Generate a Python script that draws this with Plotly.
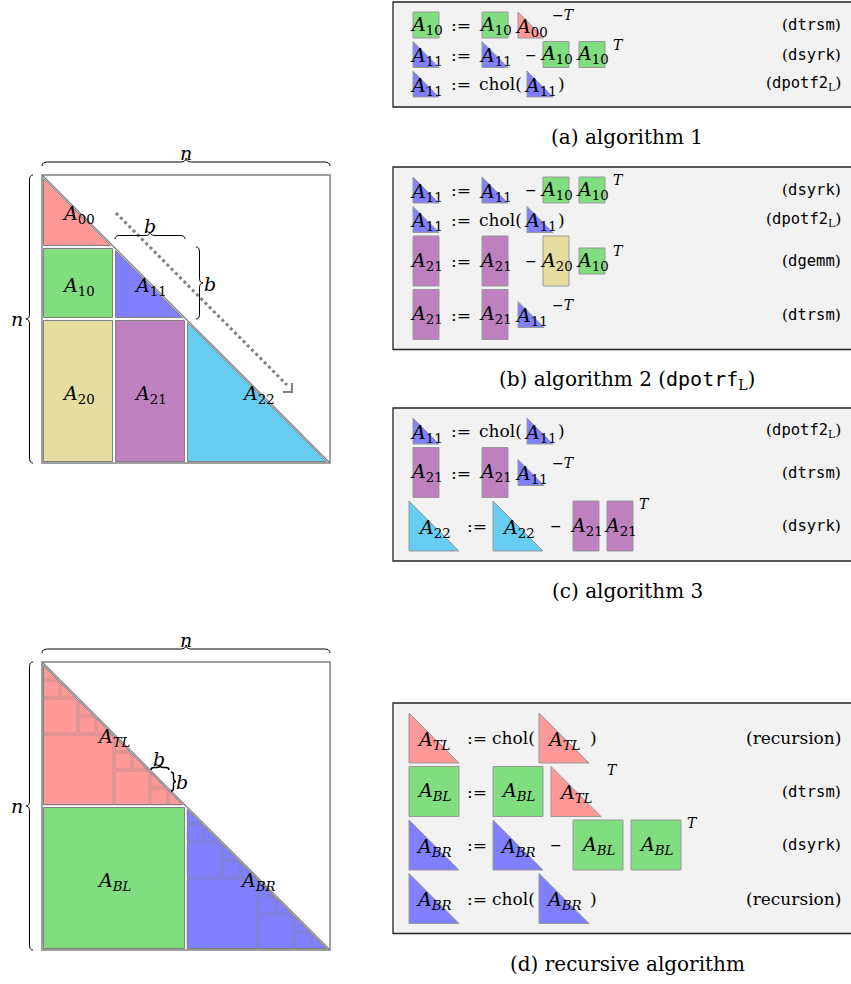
import plotly.graph_objects as go

W, H = 851, 984
SERIF = 'DejaVu Serif'
MONO = 'DejaVu Sans Mono'
GRAY = '#808080'
ICON_LINE = '#999999'
BOX_FILL = '#F2F2F2'

RED, GREEN, BLUE = '#FF9999', '#80DD80', '#8080FF'
KHAKI, PURPLE, CYAN = '#E6DDA1', '#BF80BF', '#66CCF2'

# blocked matrix (n = 4 block units): name, kind, rows, cols
block_names = ['00', '10', '11', '20', '21', '22']
block_kinds = ['tri', 'rect', 'tri', 'rect', 'rect', 'tri']
block_rows = [(0, 1), (1, 2), (1, 2), (2, 4), (2, 4), (2, 4)]
block_cols = [(0, 1), (0, 1), (1, 2), (0, 1), (1, 2), (2, 4)]

# recursive matrix (n = 2 halves)
rec_names = ['TL', 'BL', 'BR']
rec_kinds = ['tri', 'rect', 'tri']
rec_rows = [(0, 1), (1, 2), (1, 2)]
rec_cols = [(0, 1), (0, 1), (1, 2)]
rec_depth = 3

colors = {'00': RED, '10': GREEN, '11': BLUE, '20': KHAKI, '21': PURPLE, '22': CYAN,
          'TL': RED, 'BL': GREEN, 'BR': BLUE}

# equations: tokens, routine on the right
alg1 = [(['10', ':=', '10', '00', '^-T'], 'dtrsm'),
        (['11', ':=', '11', '-', '10', '10', '^T'], 'dsyrk'),
        (['11', ':=', 'chol(', '11', ')'], 'dpotf2L')]
alg2 = [(['11', ':=', '11', '-', '10', '10', '^T'], 'dsyrk'),
        (['11', ':=', 'chol(', '11', ')'], 'dpotf2L'),
        (['21', ':=', '21', '-', '20', '10', '^T'], 'dgemm'),
        (['21', ':=', '21', '11', '^-T'], 'dtrsm')]
alg3 = [(['11', ':=', 'chol(', '11', ')'], 'dpotf2L'),
        (['21', ':=', '21', '11', '^-T'], 'dtrsm'),
        (['22', ':=', '22', '-', '21', '21', '^T'], 'dsyrk')]
alg_rec = [(['TL', ':=', 'chol(', 'TL', ')'], 'recursion'),
           (['BL', ':=', 'BL', 'TL', '^T'], 'dtrsm'),
           (['BR', ':=', 'BR', '-', 'BL', 'BL', '^T'], 'dsyrk'),
           (['BR', ':=', 'chol(', 'BR', ')'], 'recursion')]
captions = ['(a) algorithm 1',
            '(b) algorithm 2 (<span style="font-family:DejaVu Sans Mono">dpotrf</span><sub>L</sub>)',
            '(c) algorithm 3',
            '(d) recursive algorithm']

# icon look per block inside the equations
ICON = {'00': ('tri', 26, 26), '10': ('rect', 26, 26), '11': ('tri', 26, 26),
        '20': ('rect', 26, 50), '21': ('rect', 26, 50), '22': ('tri', 50, 50),
        'TL': ('tri', 50, 50), 'BL': ('rect', 50, 50), 'BR': ('tri', 50, 50)}
SMALL = dict(start=413, gap=10, assign=(12, 33), minus=(13, 25), chol=(42, 45), close=-2, sup=-4)
BIG = dict(start=409, gap=8, assign=(10, 26), minus=(5, 22), chol=(44, 46), close=-4, sup=-4)
MATH = 19

shapes, annotations = [], []


def pt(x, y):
    return f'{x:.2f},{y:.2f}'


def tri_path(x, y, w, h, i=0.0):
    k = 2.4 * i
    return f'M{pt(x + i, y + k)} L{pt(x + i, y + h - i)} L{pt(x + w - k, y + h - i)} Z'


def rect_path(x, y, w, h, i=0.0):
    return f'M{pt(x + i, y + i)} L{pt(x + w - i, y + i)} L{pt(x + w - i, y + h - i)} L{pt(x + i, y + h - i)} Z'


def block(kind, x, y, w, h, fill=None, inset=0.0, lc=GRAY, lw=1.0):
    path = tri_path(x, y, w, h, inset) if kind == 'tri' else rect_path(x, y, w, h, inset)
    shapes.append(dict(type='path', path=path, xref='x', yref='y',
                       fillcolor=fill if fill else 'rgba(0,0,0,0)', line=dict(color=lc, width=lw)))


def text(s, x, y, size=MATH, anchor='center', family=SERIF):
    annotations.append(dict(text=s, x=x, y=y, xref='x', yref='y', showarrow=False,
                            xanchor=anchor, yanchor='middle',
                            font=dict(family=family, size=size, color='black')))


def mat(name):
    sub = f'<i>{name}</i>' if name.isalpha() else name
    return f'<i>A</i><sub>{sub}</sub>'


def brace(x1, y1, x2, y2, nx, ny, a=8, q=None, lw=1.0):
    q = a * 0.7 if q is None else q
    L = ((x2 - x1) ** 2 + (y2 - y1) ** 2) ** 0.5
    dx, dy = (x2 - x1) / L, (y2 - y1) / L

    def p(t, h):
        return pt(x1 + t * dx + h * nx, y1 + t * dy + h * ny)
    m = L / 2
    path = (f'M{p(0, 0)} Q{p(0, a / 2)} {p(q, a / 2)} L{p(m - q, a / 2)} Q{p(m, a / 2)} {p(m, a)} '
            f'Q{p(m, a / 2)} {p(m + q, a / 2)} L{p(L - q, a / 2)} Q{p(L, a / 2)} {p(L, 0)}')
    shapes.append(dict(type='path', path=path, xref='x', yref='y', line=dict(color='black', width=lw)))


def subdivide(x, y, s, depth):
    if depth == 0:
        block('tri', x, y, s, s, None, 1.0, 'rgba(128,128,128,0.45)', 1)
        return
    h = s / 2
    block('rect', x, y + h, h, h, None, 1.0, 'rgba(128,128,128,0.45)', 1)
    subdivide(x, y, h, depth - 1)
    subdivide(x + h, y + h, h, depth - 1)


def draw_matrix(x0, y0, n, units, names, kinds, rows, cols, depth=0):
    u = n / units
    for name, kind, (r0, r1), (c0, c1) in zip(names, kinds, rows, cols):
        x, y, w, h = x0 + c0 * u, y0 + r0 * u, (c1 - c0) * u, (r1 - r0) * u
        block(kind, x, y, w, h, colors[name], 1.5, GRAY, 1)
        if kind == 'tri' and depth:
            subdivide(x, y, w, depth)
        text(mat(name), x + w / 2, y + h / 2 + 3)
    shapes.append(dict(type='line', x0=x0, y0=y0, x1=x0 + n, y1=y0 + n, xref='x', yref='y',
                       line=dict(color=GRAY, width=1.3)))
    shapes.append(dict(type='rect', x0=x0, y0=y0, x1=x0 + n, y1=y0 + n, xref='x', yref='y',
                       line=dict(color=GRAY, width=1.5)))
    brace(x0, y0 - 9, x0 + n, y0 - 9, 0, -1, 8)
    text('<i>n</i>', x0 + n / 2, y0 - 22)
    brace(x0 - 9, y0, x0 - 9, y0 + n, -1, 0, 7)
    text('<i>n</i>', x0 - 25, y0 + n / 2)


def rhs_label(name):
    if name == 'recursion':
        return '(recursion)'
    if name.endswith('L'):
        body = f'<span style="font-family:{MONO}">{name[:-1]}</span><sub>L</sub>'
    else:
        body = f'<span style="font-family:{MONO}">{name}</span>'
    return f'({body})'


def draw_panel(eqs, top, caption):
    y = top + 10
    for tokens, rhs in eqs:
        row_h = max(ICON[t][2] for t in tokens if t in ICON)
        yc = y + row_h / 2
        P = BIG if ICON[tokens[0]][1] > 30 else SMALL
        x = P['start']
        last_top = yc
        for t in tokens:
            if t in ICON:
                kind, w, h = ICON[t]
                block(kind, x, yc - h / 2, w, h, colors[t], 0, ICON_LINE, 1)
                text(mat(t), x + w / 2, yc + (2 if kind == 'tri' else 0))
                last_top = yc - h / 2
                x += w + P['gap']
            elif t == ':=':
                text(':=', x + P['assign'][0], yc, size=17)
                x += P['assign'][1]
            elif t == '-':
                text('\u2212', x + P['minus'][0], yc, size=14)
                x += P['minus'][1]
            elif t == 'chol(':
                text('chol(', x + P['chol'][0], yc, size=17, anchor='right')
                x += P['chol'][1]
            elif t == ')':
                text(')', x + P['close'], yc, size=17)
            elif t.startswith('^'):
                sup = t[1:].replace('-', '\u2212').replace('T', '<i>T</i>')
                text(sup, x + P['sup'], last_top + 3, size=14, anchor='left')
        text(rhs_label(rhs), 843, yc, size=17 if rhs == 'recursion' else 15.5, anchor='right')
        y += row_h + 3.5
    bottom = y - 3.5 + 10
    shapes.insert(0, dict(type='rect', x0=393, y0=top, x1=W + 5, y1=bottom, xref='x', yref='y',
                          fillcolor=BOX_FILL, line=dict(color='#222222', width=1.3)))
    text(caption, 627, bottom + 30, size=20)


# left: blocked matrix
draw_matrix(42, 175, 288, 4, block_names, block_kinds, block_rows, block_cols)
shapes.append(dict(type='line', x0=116, y0=213, x1=287, y1=385, xref='x', yref='y',
                   line=dict(color=GRAY, width=3, dash='dot')))
shapes.append(dict(type='path', path='M283,392 L292,392 L292,383', xref='x', yref='y',
                   line=dict(color=GRAY, width=2)))
brace(115, 239, 185, 239, 0, -1, 7)
text('<i>b</i>', 150, 226)
brace(196, 247, 196, 319, 1, 0, 7)
text('<i>b</i>', 210, 284)

# left: recursive matrix
draw_matrix(42, 662, 288, 2, rec_names, rec_kinds, rec_rows, rec_cols, rec_depth)
brace(151, 770, 169, 770, 0, -1, 5, 3, 1.5)
text('<i>b</i>', 159, 759)
brace(171, 772, 171, 791, 1, 0, 5, 3, 1.5)
text('<i>b</i>', 182, 782)

# right: equation panels
draw_panel(alg1, 2, captions[0])
draw_panel(alg2, 167, captions[1])
draw_panel(alg3, 408, captions[2])
draw_panel(alg_rec, 703, captions[3])

fig = go.Figure()
fig.update_layout(width=W, height=H, margin=dict(l=0, r=0, t=0, b=0),
                  paper_bgcolor='white', plot_bgcolor='white', showlegend=False,
                  xaxis=dict(range=[0, W], visible=False, fixedrange=True),
                  yaxis=dict(range=[H, 0], visible=False, fixedrange=True),
                  shapes=shapes, annotations=annotations)
fig.write_html("out.html", config={'displayModeBar': False},
               post_script="document.body.style.margin='0px';")
